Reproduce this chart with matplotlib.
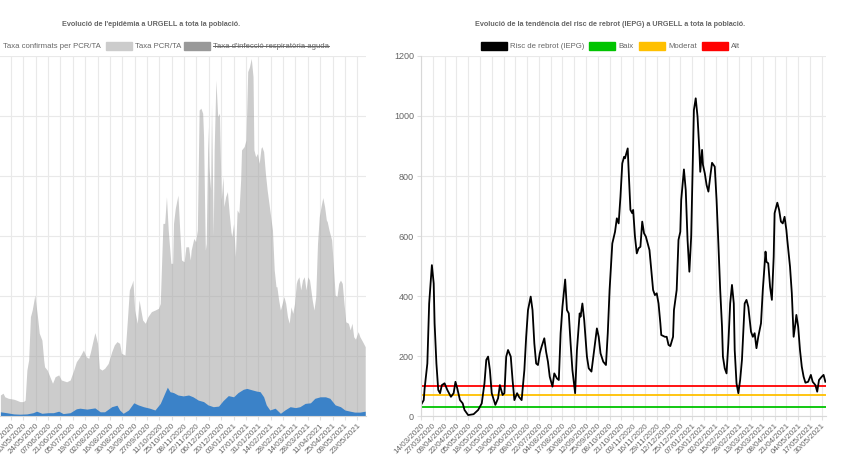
import matplotlib
matplotlib.use('Agg')
import matplotlib.pyplot as plt
from matplotlib.patches import Rectangle
from matplotlib.lines import Line2D
from datetime import date, timedelta

plt.rcParams['font.family'] = ['Liberation Sans', 'DejaVu Sans']

# ---- left chart: days counted from 26/04/2020 ----
left_start = date(2020, 4, 26)
pcr_days = [-12, -9, -7, -3, 3, 6, 10, 14, 16, 18, 20, 22, 24, 27, 30, 32, 35, 37, 38, 41, 44, 47, 50, 54, 57,
            63, 67, 71, 74, 78, 82, 85, 88, 90, 93, 95, 98, 100, 103, 106, 110, 114, 117, 120, 123, 125, 129,
            132, 134, 137, 138, 140, 143, 145, 147, 149, 152, 155, 159, 163, 167, 169, 171, 172, 174, 176, 178,
            181, 183, 184, 186, 189, 191, 193, 196, 198, 201, 203, 204, 207, 209, 211, 213, 215, 217, 218, 220,
            221, 223, 224, 226, 227, 229, 230, 232, 234, 236, 238, 240, 241, 243, 245, 247, 249, 250, 252, 254,
            256, 258, 260, 261, 264, 266, 268, 270, 272, 274, 275, 277, 279, 281, 283, 284, 286, 288, 290, 292,
            294, 296, 298, 300, 301, 303, 305, 307, 309, 311, 313, 315, 317, 319, 321, 323, 324, 326, 328, 330,
            332, 334, 336, 338, 340, 341, 343, 345, 347, 349, 351, 353, 355, 357, 358, 360, 363, 365, 367, 369,
            371, 373, 375, 377, 379, 382, 384, 386, 388, 390, 393, 395, 398, 401]
pcr_vals = [70, 76, 64, 59, 56, 53, 48, 48, 53, 153, 187, 331, 353, 403, 331, 276, 253, 187, 164, 153, 131, 109, 131, 137, 120,
            114, 120, 153, 181, 198, 220, 198, 192, 214, 253, 278, 242, 159, 153, 159, 175, 214, 237, 248, 242, 209, 203,
            331, 420, 442, 453, 353, 309, 387, 353, 320, 309, 331, 348, 353, 359, 375, 553, 642, 642, 731, 620,
            509, 509, 642, 692, 736, 620, 520, 514, 564, 564, 520, 553, 592, 581, 620, 1020, 1026, 1009, 931, 553,
            575, 964, 831, 753, 1042, 598, 887, 1120, 998, 1009, 720, 798, 698, 731, 748, 676, 614, 598, 642, 531,
            687, 676, 787, 887, 898, 920, 1148, 1164, 1192, 1131, 887, 864, 875, 842, 892, 898, 881, 809, 753, 709,
            664, 620, 487, 431, 431, 387, 353, 375, 398, 375, 331, 309, 364, 342, 375, 442, 453, 464, 420, 453,
            464, 420, 464, 453, 409, 387, 353, 398, 575, 664, 698, 728, 698, 653, 648, 620, 587, 498, 403, 398,
            442, 453, 442, 375, 314, 309, 287, 309, 264, 256, 281, 264, 248, 231]
conf_days = [-12, -5, 3, 10, 18, 25, 29, 35, 42, 48, 54, 59, 67, 74, 78, 86, 95, 101, 106, 114, 120, 123, 127, 133,
             139, 144, 150, 157, 163, 169, 174, 177, 180, 184, 189, 195, 201, 206, 212, 218, 223, 229, 235, 240,
             246, 252, 257, 263, 267, 273, 278, 282, 286, 289, 293, 299, 305, 310, 316, 322, 327, 333, 339, 344,
             350, 356, 361, 367, 373, 378, 384, 389, 395, 401]
conf_vals = [14, 11, 7, 6, 7, 11, 16, 9, 11, 11, 16, 8, 11, 24, 26, 23, 27, 14, 14, 31, 36, 20, 9, 20,
             44, 37, 31, 26, 20, 42, 76, 96, 81, 78, 70, 67, 70, 64, 53, 48, 37, 31, 33, 51,
             68, 64, 78, 89, 92, 87, 83, 81, 64, 37, 20, 26, 9, 20, 31, 28, 31, 42, 44, 59,
             64, 64, 59, 37, 31, 20, 16, 13, 13, 16]

# ---- right chart: days counted from 14/03/2020 ----
right_start = date(2020, 3, 14)
iepg_days = [0, 3, 4, 7, 9, 12, 14, 15, 17, 19, 21, 23, 26, 29, 33, 36, 38, 40, 43, 46, 48, 52, 58, 63, 67, 70, 72,
             74, 76, 78, 82, 85, 87, 90, 92, 94, 96, 99, 101, 103, 106, 108, 111, 114, 116, 118, 121, 123, 125,
             127, 129, 131, 133, 136, 138, 140, 142, 145, 147, 150, 152, 154, 156, 159, 161, 163, 165, 167, 170,
             172, 175, 176, 178, 180, 183, 185, 188, 191, 194, 196, 198, 201, 204, 206, 208, 211, 214, 216, 218,
             220, 222, 224, 225, 228, 229, 231, 233, 234, 236, 238, 240, 242, 244, 246, 248, 250, 252, 254, 256,
             258, 260, 262, 264, 265, 269, 271, 273, 275, 278, 279, 282, 284, 286, 287, 290, 292, 294, 296, 298,
             300, 301, 303, 305, 307, 308, 310, 311, 313, 315, 317, 319, 321, 324, 326, 328, 330, 332, 333, 335,
             337, 339, 341, 343, 345, 346, 348, 350, 352, 354, 356, 357, 359, 361, 364, 366, 368, 370, 372, 375,
             377, 380, 381, 383, 385, 387, 389, 390, 393, 395, 397, 399, 401, 403, 404, 407, 409, 411, 413, 414,
             416, 418, 420, 422, 424, 427, 430, 432, 435, 437, 439, 442, 444, 446]
iepg_vals = [37, 53, 92, 175, 375, 503, 442, 309, 175, 87, 76, 103, 109, 87, 64, 76, 114, 92, 53, 42, 20, 3, 6, 20, 42, 109, 187,
             198, 153, 76, 37, 59, 103, 70, 76, 198, 220, 198, 120, 53, 76, 64, 53, 153, 264, 353, 398, 353, 242,
             175, 170, 209, 231, 259, 214, 181, 131, 98, 142, 125, 120, 276, 364, 455, 353, 342, 242, 153, 76,
             220, 342, 331, 375, 320, 198, 159, 148, 220, 292, 264, 209, 181, 170, 276, 420, 575, 614, 659, 642,
             731, 842, 864, 859, 892, 820, 687, 676, 687, 598, 542, 559, 564, 648, 609, 598, 575, 553, 487, 420,
             403, 409, 375, 309, 270, 264, 264, 237, 233, 264, 353, 420, 587, 614, 720, 822, 753, 587, 481, 598,
             887, 1020, 1059, 998, 887, 814, 887, 837, 809, 770, 748, 798, 844, 831, 720, 575, 420, 298, 198, 159,
             142, 242, 375, 437, 375, 220, 109, 76, 120, 187, 309, 375, 387, 364, 281, 264, 276, 226, 264, 309,
             420, 548, 514, 509, 431, 387, 531, 676, 711, 687, 648, 642, 664, 620, 587, 498, 409, 264, 309, 337,
             298, 220, 164, 131, 111, 114, 137, 114, 103, 81, 120, 131, 137, 114]
level_names = ['Baix', 'Moderat', 'Alt']
level_vals = [30, 70, 100]
level_colors = ['#00c400', '#ffc000', '#ff0000']

W, H = 844, 475
fig = plt.figure(figsize=(W / 100, H / 100), dpi=100)


def rect(x0, y0, x1, y1):
    return [x0 / W, 1 - y1 / H, (x1 - x0) / W, (y1 - y0) / H]


def style(ax, ticks, start):
    ax.set_xticks(ticks)
    ax.set_xticklabels([(start + timedelta(days=int(t))).strftime('%d/%m/%Y') for t in ticks],
                       rotation=45, ha='right', rotation_mode='anchor', fontsize=5.8, color='#666666')
    ax.set_ylim(0, 1200)
    ax.set_yticks(range(0, 1201, 200))
    ax.grid(True, color='#e9e9e9', lw=0.8)
    ax.set_axisbelow(True)
    ax.tick_params(axis='x', length=3, width=0.8, color='#e0e0e0', pad=1.5)
    ax.tick_params(axis='y', length=3, width=0.8, color='#e0e0e0', pad=2,
                   labelsize=6.5, labelcolor='#666666')
    for s in ['top', 'right']:
        ax.spines[s].set_visible(False)
    for s in ['left', 'bottom']:
        ax.spines[s].set_color('#d8d8d8')
        ax.spines[s].set_linewidth(0.8)


# left panel (cropped screenshot: its y axis lies outside the picture)
axL = fig.add_axes(rect(0, 56, 366, 416))
axL.fill_between(pcr_days, pcr_vals, color='#a2a2a2', alpha=0.55, lw=0)
axL.fill_between(conf_days, conf_vals, color='#3b82c8', lw=0)
style(axL, list(range(-14, 400, 14)), left_start)
axL.set_xlim(-12.45, 401.9)
axL.tick_params(axis='y', labelleft=False, length=0)
axL.spines['left'].set_visible(False)

# right panel
axR = fig.add_axes(rect(421, 56, 826, 416))
for v, c in zip(level_vals, level_colors):
    axR.axhline(v, color=c, lw=1.3)
axR.plot(iepg_days, iepg_vals, color='black', lw=1.3)
style(axR, list(range(0, 443, 13)), right_start)
axR.set_xlim(0, 446.7)

# titles
fig.text(151 / W, 1 - 25 / H, "Evolució de l'epidèmia a URGELL a tota la població.",
         ha='center', va='center', fontsize=5.25, fontweight='bold', color='#666666')
fig.text(610 / W, 1 - 25 / H, "Evolució de la tendència del risc de rebrot (IEPG) a URGELL a tota la població.",
         ha='center', va='center', fontsize=5.25, fontweight='bold', color='#666666')


def legend_item(x_box, label, color):
    if x_box is not None:
        fig.patches.append(Rectangle((x_box / W, 1 - 50 / H), 26 / W, 8 / H,
                                     transform=fig.transFigure, color=color))
        x_txt = x_box + 29
    else:
        x_txt = 3
    return fig.text(x_txt / W, 1 - 46 / H, label, ha='left', va='center', fontsize=5.6, color='#666666')


legend_item(None, 'Taxa confirmats per PCR/TA', None)
legend_item(106, 'Taxa PCR/TA', '#cccccc')
struck = legend_item(184, "Taxa d'infecció respiratòria aguda", '#999999')

legend_item(481, 'Risc de rebrot (IEPG)', 'black')
for x, name, c in zip([589, 639, 702], level_names, level_colors):
    legend_item(x, name, c)

fig.canvas.draw()
bb = struck.get_window_extent().transformed(fig.transFigure.inverted())
ym = (bb.y0 + bb.y1) / 2
fig.add_artist(Line2D([bb.x0, bb.x1], [ym, ym], transform=fig.transFigure, color='#666666', lw=0.7))

fig.savefig('out.png', dpi=100)
